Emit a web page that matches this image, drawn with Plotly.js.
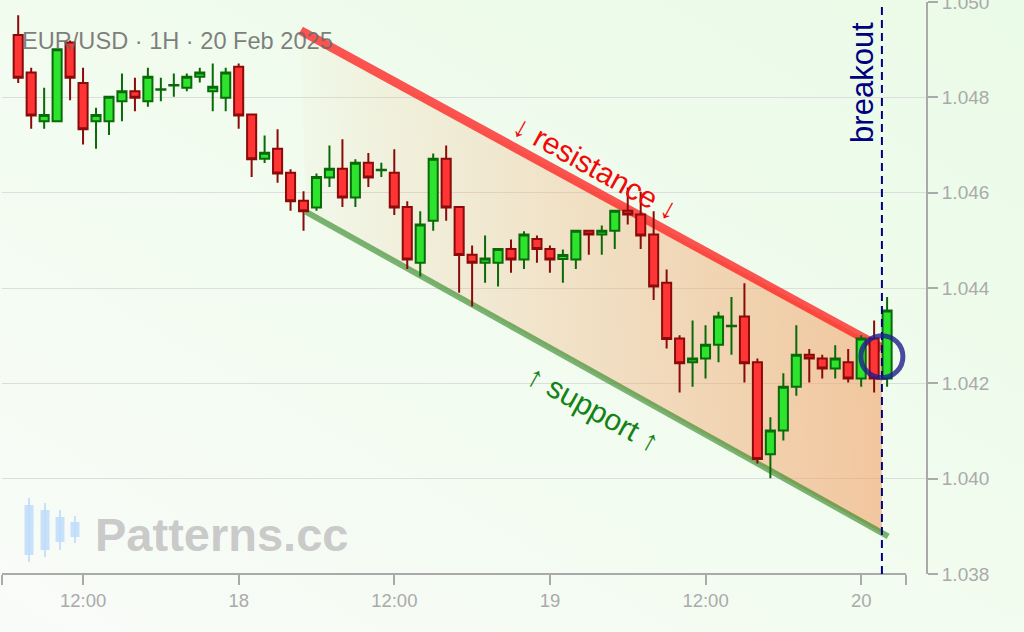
<!DOCTYPE html>
<html>
<head>
<meta charset="utf-8">
<script src="https://cdn.plot.ly/plotly-3.0.1.min.js"></script>
<style>
  html, body { margin: 0; padding: 0; }
  body { width: 1024px; height: 632px; overflow: hidden;
         background: linear-gradient(30deg, #f9fbf8 0%, #f2fcf0 45%, #eafbe7 100%); }
  #chart { width: 1024px; height: 632px; }
</style>
</head>
<body>
<div id="chart"></div>
<script>
// ---- Data (EUR/USD, 1H candles, 17 Feb 07:00 -> 20 Feb 02:00) ----
const openP  = [1.04931,1.04852,1.04750,1.04750,1.04915,1.04830,1.04750,1.04750,1.04792,1.04813,
                1.04792,1.04816,1.04825,1.04820,1.04843,1.04813,1.04799,1.04864,1.04764,1.04671,
                1.04692,1.04642,1.04583,1.04569,1.04632,1.04650,1.04590,1.04663,1.04647,1.04642,
                1.04570,1.04453,1.04541,1.04671,1.04570,1.04470,1.04453,1.04453,1.04482,1.04460,
                1.04503,1.04482,1.04461,1.04460,1.04520,1.04512,1.04520,1.04562,1.04554,1.04512,
                1.04411,1.04294,1.04244,1.04252,1.04281,1.04320,1.04340,1.04244,1.04051,1.04101,
                1.04193,1.04260,1.04252,1.04231,1.04244,1.04210,1.04294,1.04210];
const highP  = [1.04972,1.04862,1.04820,1.04903,1.04919,1.04862,1.04778,1.04802,1.04850,1.04841,
                1.04862,1.04841,1.04850,1.04850,1.04862,1.04871,1.04862,1.04871,1.04765,1.04720,
                1.04733,1.04649,1.04603,1.04640,1.04699,1.04712,1.04670,1.04683,1.04663,1.04691,
                1.04582,1.04561,1.04682,1.04699,1.04572,1.04489,1.04510,1.04483,1.04502,1.04519,
                1.04510,1.04489,1.04481,1.04521,1.04521,1.04531,1.04563,1.04611,1.04602,1.04561,
                1.04439,1.04301,1.04332,1.04322,1.04350,1.04381,1.04410,1.04252,1.04129,1.04221,
                1.04322,1.04272,1.04260,1.04280,1.04272,1.04301,1.04332,1.04381];
const lowP   = [1.04830,1.04734,1.04734,1.04748,1.04794,1.04701,1.04692,1.04721,1.04750,1.04771,
                1.04780,1.04792,1.04801,1.04813,1.04831,1.04771,1.04771,1.04734,1.04633,1.04662,
                1.04621,1.04562,1.04520,1.04562,1.04612,1.04570,1.04570,1.04612,1.04633,1.04553,
                1.04440,1.04424,1.04520,1.04541,1.04390,1.04361,1.04411,1.04403,1.04432,1.04440,
                1.04453,1.04432,1.04411,1.04440,1.04470,1.04470,1.04482,1.04533,1.04482,1.04375,
                1.04273,1.04181,1.04193,1.04210,1.04244,1.04260,1.04202,1.04032,1.04001,1.04080,
                1.04174,1.04202,1.04210,1.04210,1.04202,1.04193,1.04181,1.04193];
const closeP = [1.04841,1.04762,1.04763,1.04901,1.04841,1.04733,1.04763,1.04801,1.04813,1.04799,
                1.04843,1.04817,1.04826,1.04843,1.04852,1.04822,1.04852,1.04762,1.04670,1.04684,
                1.04640,1.04582,1.04561,1.04633,1.04650,1.04590,1.04663,1.04632,1.04648,1.04569,
                1.04460,1.04533,1.04671,1.04569,1.04469,1.04453,1.04462,1.04482,1.04460,1.04512,
                1.04482,1.04460,1.04469,1.04520,1.04512,1.04520,1.04562,1.04554,1.04510,1.04403,
                1.04293,1.04242,1.04252,1.04281,1.04340,1.04321,1.04242,1.04041,1.04101,1.04193,
                1.04260,1.04252,1.04231,1.04252,1.04210,1.04294,1.04210,1.04353];

// Channel lines
const resistanceX = ['2025-02-18 04:47', '2025-02-20 01:36'];
const resistanceY = [1.04940, 1.04274];
const supportX    = ['2025-02-18 05:10', '2025-02-20 02:05'];
const supportY    = [1.04560, 1.03879];
const channelFillX = ['2025-02-18 04:47', '2025-02-20 01:36', '2025-02-20 01:36', '2025-02-18 05:10'];
const channelFillY = [1.04940, 1.04274, 1.03886, 1.04560];
const breakoutTime = '2025-02-20 01:36';
const breakoutPrice = 1.04256;

// Axis ticks
const xTickVals = ['2025-02-17 05:46','2025-02-17 12:00','2025-02-18 00:00','2025-02-18 12:00',
                   '2025-02-19 00:00','2025-02-19 12:00','2025-02-20 00:00','2025-02-20 03:28'];
const xTickText = ['', '12:00', '18', '12:00', '19', '12:00', '20', ''];
const yTickVals = [1.038, 1.040, 1.042, 1.044, 1.046, 1.048, 1.050];
const yTickText = ['1.038', '1.040', '1.042', '1.044', '1.046', '1.048', '1.050'];
const xRange = ['2025-02-17 05:45', '2025-02-20 05:00'];
const yRange = [1.038, 1.050];

// Hourly timestamps
const t0 = Date.UTC(2025, 1, 17, 7);
const times = openP.map((_, i) => new Date(t0 + i * 3600e3).toISOString().slice(0, 16).replace('T', ' '));

// pixel helpers for decorations (plot area: x 2..926, y 2..574)
const PX = X => (X - 2) / 924;
const PY = Y => (574 - Y) / 572;

const FONT = 'Liberation Sans, Arial, Helvetica, sans-serif';

const traces = [
  {
    type: 'scatter', mode: 'lines', x: channelFillX, y: channelFillY, xaxis: 'x', yaxis: 'y',
    fill: 'toself', line: { width: 0 }, hoverinfo: 'skip',
    fillgradient: { type: 'horizontal',
      colorscale: [[0, 'rgba(242,160,100,0.04)'], [1, 'rgba(242,160,100,0.58)']] }
  },
  {
    type: 'scatter', mode: 'lines', x: resistanceX, y: resistanceY, xaxis: 'x', yaxis: 'y',
    line: { color: 'rgba(255,20,20,0.72)', width: 9 }, hoverinfo: 'skip'
  },
  {
    type: 'scatter', mode: 'lines', x: supportX, y: supportY, xaxis: 'x', yaxis: 'y',
    line: { color: 'rgba(40,130,30,0.6)', width: 6 }, hoverinfo: 'skip'
  },
  {
    type: 'candlestick', x: times, open: openP, high: highP, low: lowP, close: closeP,
    xaxis: 'x', yaxis: 'y2',
    whiskerwidth: 0,
    increasing: { line: { color: '#0a6a0a', width: 2 }, fillcolor: '#2ee32e' },
    decreasing: { line: { color: '#8b0a0a', width: 2 }, fillcolor: '#ff3535' },
    hoverinfo: 'skip'
  }
];

const iconColor = 'rgba(190,220,250,0.85)';
const iconCandles = [ // [centerX, bodyTop, bodyBottom, wickTop, wickBottom] in pixels
  [29, 505, 555, 498, 562], [45, 510, 550, 503, 557], [60, 517, 542, 510, 550], [75, 522, 537, 516, 543]
];
const iconShapes = [];
iconCandles.forEach(c => {
  iconShapes.push({ type: 'line', xref: 'paper', yref: 'paper', x0: PX(c[0]), x1: PX(c[0]),
    y0: PY(c[3]), y1: PY(c[4]), line: { color: iconColor, width: 2 }, layer: 'below' });
  iconShapes.push({ type: 'rect', xref: 'paper', yref: 'paper', x0: PX(c[0] - 4.5), x1: PX(c[0] + 4.5),
    y0: PY(c[1]), y1: PY(c[2]), line: { width: 0 }, fillcolor: iconColor, layer: 'below' });
});

const tickFontY = { size: 19, color: '#aaaaaa', family: FONT };
const tickFontX = { size: 18.5, color: '#aaaaaa', family: FONT };

const layout = {
  width: 1024, height: 632,
  margin: { l: 2, r: 98, t: 2, b: 58, pad: 0 },
  paper_bgcolor: 'rgba(0,0,0,0)', plot_bgcolor: 'rgba(0,0,0,0)',
  showlegend: false, hovermode: false,
  boxgap: 0.3, boxgroupgap: 0,
  font: { family: FONT },
  xaxis: {
    type: 'date', range: xRange, rangeslider: { visible: false },
    tickmode: 'array', tickvals: xTickVals, ticktext: xTickText,
    ticks: 'outside', ticklen: 10, tickwidth: 2, tickcolor: '#aaaaaa',
    showgrid: false, showline: false, zeroline: false,
    tickfont: tickFontX, automargin: false
  },
  yaxis: {
    side: 'right', range: yRange, tickmode: 'array', tickvals: yTickVals, ticktext: yTickText,
    ticks: 'outside', ticklen: 10, tickwidth: 2, tickcolor: '#aaaaaa',
    showline: true, linecolor: '#aaaaaa', linewidth: 2, zeroline: false,
    gridcolor: '#dddddd', gridwidth: 1, ticklabeloverflow: 'allow',
    tickfont: tickFontY, automargin: false
  },
  yaxis2: {
    overlaying: 'y', side: 'right', range: yRange, visible: false,
    showgrid: false, zeroline: false, showticklabels: false, automargin: false
  },
  shapes: [
    ...iconShapes,
    { type: 'line', xref: 'x', yref: 'paper', x0: xRange[0], x1: xTickVals[xTickVals.length - 1],
      y0: 0, y1: 0, line: { color: '#aaaaaa', width: 2 }, layer: 'above' },
    { type: 'line', xref: 'x', yref: 'paper', x0: breakoutTime, x1: breakoutTime, y0: 0, y1: 1,
      line: { color: '#000080', width: 2, dash: '8px,5px' }, layer: 'above' },
    { type: 'circle', xref: 'x', yref: 'y', xsizemode: 'pixel', ysizemode: 'pixel',
      xanchor: breakoutTime, yanchor: breakoutPrice, x0: -21, x1: 21, y0: -21, y1: 21,
      line: { color: 'rgba(30,30,140,0.8)', width: 5 }, layer: 'above' }
  ],
  annotations: [
    { xref: 'paper', yref: 'paper', x: PX(20), y: PY(41), xanchor: 'left', yanchor: 'middle',
      text: 'EUR/USD · 1H · 20 Feb 2025', showarrow: false,
      font: { size: 23.6, color: 'rgba(105,105,105,0.85)', family: FONT } },
    { xref: 'paper', yref: 'paper', x: PX(93), y: PY(534), xanchor: 'left', yanchor: 'middle',
      text: '<b>Patterns.cc</b>', showarrow: false,
      font: { size: 47, color: 'rgba(195,195,195,0.9)', family: FONT } },
    { xref: 'x', yref: 'paper', x: breakoutTime, y: PY(82), xshift: -20,
      xanchor: 'center', yanchor: 'middle', textangle: -90,
      text: 'breakout', showarrow: false,
      font: { size: 31, color: '#000080', family: FONT } },
    { xref: 'x', yref: 'y', x: '2025-02-19 03:30', y: 1.04652, textangle: 29,
      text: '↓ resistance ↓', showarrow: false,
      font: { size: 30, color: 'rgb(240,10,10)', family: FONT } },
    { xref: 'x', yref: 'y', x: '2025-02-19 03:20', y: 1.04147, textangle: 29,
      text: '↑ support ↑', showarrow: false,
      font: { size: 30, color: 'rgb(20,130,20)', family: FONT } }
  ]
};

Plotly.newPlot('chart', traces, layout, { staticPlot: true, displayModeBar: false });
</script>
</body>
</html>
